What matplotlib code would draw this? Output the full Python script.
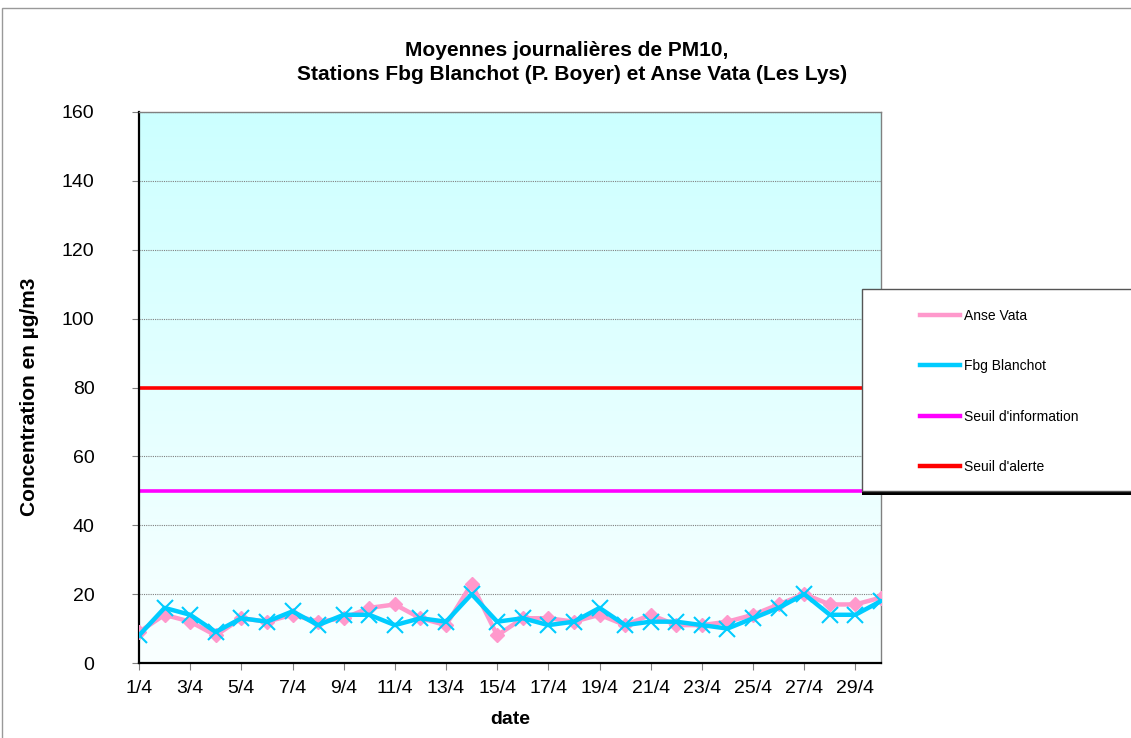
import numpy as np
import matplotlib
matplotlib.use("Agg")
import matplotlib.pyplot as plt
from matplotlib.lines import Line2D
from matplotlib.patches import Rectangle

plt.rcParams["font.family"] = ["Liberation Sans", "DejaVu Sans"]

# ---------------------------------------------------------------- data
days = list(range(1, 31))
tick_days = list(range(1, 30, 2))
tick_labels = [f"{d}/4" for d in tick_days]

anse_vata = [9, 14, 12, 8, 13, 12, 14, 12, 13, 16, 17, 13, 11, 23, 8,
             13, 13, 12, 14, 11, 14, 11, 11, 12, 14, 17, 20, 17, 17, 19]
fbg_blanchot = [8, 16, 14, 9, 13, 12, 15, 11, 14, 14, 11, 13, 12, 20, 12,
                13, 11, 12, 16, 11, 12, 12, 11, 10, 13, 16, 20, 14, 14, 18]
seuil_info = 50
seuil_alerte = 80

# ---------------------------------------------------------------- figure
W, H = 1131, 738
fig = plt.figure(figsize=(W / 100, H / 100), dpi=100)
fig.patch.set_facecolor("white")

# outer chart border
fig.add_artist(Rectangle((2 / W, -0.05), 1.1, (H - 8) / H + 0.05,
                         transform=fig.transFigure, fill=False,
                         ec="#999999", lw=1.0))

ax = fig.add_axes([139 / W, 1 - 663 / H, (881 - 139) / W, (663 - 112) / H])

# gradient background (cyan at the top -> almost white at the bottom)
top = np.array([204, 255, 255]) / 255
bot = np.array([250, 255, 255]) / 255
t = np.linspace(0, 1, 256)[:, None]
grad = (top * (1 - t) + bot * t)[:, None, :]
ax.imshow(grad, extent=[1, 30, 0, 160], aspect="auto", origin="upper",
          zorder=0)

for y in range(20, 161, 20):
    ax.axhline(y, color="#808080", lw=0.8, ls=(0, (1, 1)), zorder=1)

ax.axhline(seuil_info, color="#FF00FF", lw=2.6, zorder=2)
ax.axhline(seuil_alerte, color="#FF0000", lw=2.6, zorder=2)

ax.plot(days, anse_vata, color="#FF99CC", lw=3.2, marker="D", ms=7,
        mec="#FF99CC", zorder=3)
ax.plot(days, fbg_blanchot, color="#00CCFF", lw=3.2, marker="x", ms=11,
        mew=1.5, zorder=4)

ax.set_xlim(1, 30)
ax.set_ylim(0, 160)
ax.set_xticks(tick_days)
ax.set_xticklabels(tick_labels)
ax.set_yticks(range(0, 161, 20))
ax.tick_params(labelsize=14, length=5, width=0.8, color="#808080",
               direction="out")
ax.tick_params(axis="x", pad=7)
ax.tick_params(axis="y", pad=27)

for side in ["top", "right"]:
    ax.spines[side].set_color("#808080")
    ax.spines[side].set_linewidth(1.0)
for side in ["left", "bottom"]:
    ax.spines[side].set_color("black")
    ax.spines[side].set_linewidth(1.6)

ax.set_xlabel("date", fontsize=14, fontweight="bold", labelpad=10)
fig.text(30 / W, 1 - 397 / H, "Concentration en µg/m3", rotation=90,
         ha="center", va="center", fontsize=15, fontweight="bold")

fig.text(567 / W, 1 - 50 / H, "Moyennes journalières de PM10,",
         ha="center", va="center", fontsize=15, fontweight="bold")
fig.text(572 / W, 1 - 75 / H, "Stations Fbg Blanchot (P. Boyer) et Anse Vata (Les Lys)",
         ha="center", va="center", fontsize=15, fontweight="bold")

# legend box with shadow
lx0, ly0, ly1 = 862, 289, 491
fig.add_artist(Rectangle((lx0 / W, 1 - (ly1 + 4) / H), 1, 4 / H,
                         transform=fig.transFigure, fc="black", ec="none",
                         zorder=9))
fig.add_artist(Rectangle((lx0 / W, 1 - ly1 / H), 1, (ly1 - ly0) / H,
                         transform=fig.transFigure, fc="white", ec="#555555",
                         lw=1.0, zorder=10))

handles = [
    Line2D([], [], color="#FF99CC", lw=3.2),
    Line2D([], [], color="#00CCFF", lw=3.2),
    Line2D([], [], color="#FF00FF", lw=3.2),
    Line2D([], [], color="#FF0000", lw=3.2),
]
labels = ["Anse Vata", "Fbg Blanchot", "Seuil d'information", "Seuil d'alerte"]
leg = fig.legend(handles, labels, loc="upper left",
                 bbox_to_anchor=(913 / W, 1 - 302 / H), frameon=False,
                 fontsize=10, handlelength=2.9, handletextpad=0.3,
                 labelspacing=2.62, borderpad=0.0)
leg.set_zorder(11)

fig.savefig("out.png", dpi=100)
